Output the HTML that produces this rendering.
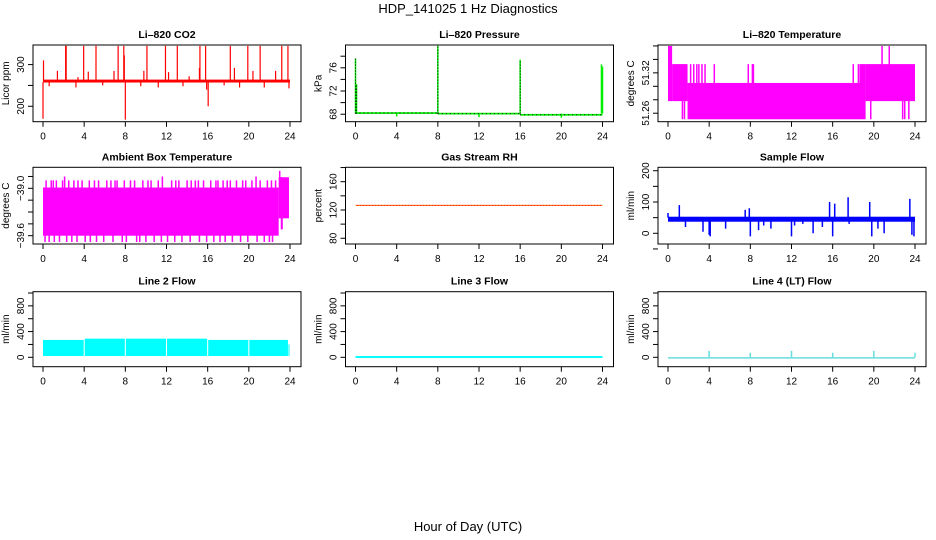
<!DOCTYPE html>
<html><head><meta charset="utf-8"><style>
body{margin:0;background:#fff}
svg{display:block;font-family:"Liberation Sans",Arial,sans-serif}
</style></head><body>
<svg id="chart" width="936" height="540" viewBox="0 0 936 540">
<text x="468" y="13" text-anchor="middle" font-size="13">HDP_141025  1 Hz Diagnostics</text>
<text x="468" y="531" text-anchor="middle" font-size="13">Hour of Day (UTC)</text>
</svg>
<script>
// ---- data ----
const xTicks = [0,4,8,12,16,20,24];
// CO2
const co2Band = [[0,24,257,264]];
const co2SpikeT = [0.0,0.05,2.2,2.25,3.95,5.15,7.3,7.85,8.0,10.1,11.9,13.05,15.25,15.8,15.9,16.05,18.2,19.9,21.1,23.2,23.8,1.4,3.4,4.4,6.9,7.9,9.8,12.2,14.2,15.2,18.6,20.4,22.6,0.6,3.2,5.8,9.5,11.2,13.6,17.6,19.1,21.5,23.9];
const co2SpikeV = [170,310,345,345,345,345,345,345,168,345,345,345,345,345,240,200,345,345,345,345,345,285,270,283,285,322,285,282,272,292,292,285,285,248,245,250,248,245,248,250,245,245,243];
// Pressure
const presBand = [[0,8,68.05,68.35],[8,16,67.95,68.25],[16,24,67.75,68.05]];
const presSpikeT = [0.0,0.1,8.0,16.0,23.9,24.0,4.0,12.0,20.0];
const presSpikeV = [77.6,73.2,79.8,77.4,76.6,76.2,67.6,67.5,67.4];
// Li-820 temperature (quantized levels)
const tempBand = [[0,0.4,51.278,51.360],[0.4,1.9,51.278,51.333],[1.9,19.2,51.251,51.305],[19.2,24,51.278,51.333],[18.6,19.2,51.278,51.333]];
const tempSpikeT = [1.4,1.6,2.2,2.5,2.8,3.0,3.3,3.6,4.5,7.8,8.2,8.3,18.0,18.5,19.7,22.8,23.0,23.4,20.8,21.5];
const tempSpikeV = [51.251,51.251,51.333,51.333,51.333,51.333,51.333,51.333,51.333,51.333,51.333,51.333,51.333,51.333,51.251,51.251,51.251,51.251,51.36,51.36];
// Ambient box temperature
const ambBand = [[0,22.9,-39.6,-38.99],[22.9,23.9,-39.38,-38.86],[23.1,23.3,-39.52,-38.86]];
const ambSpikeT = [0.3,1.0,2.1,3.4,5.0,6.6,7.2,8.9,10.2,11.6,12.9,14.4,15.1,16.8,17.9,19.4,20.7,22.6,0.6,1.6,2.8,4.1,5.9,7.7,9.4,10.8,12.1,13.5,15.9,17.2,18.4,19.9,21.5,22.3,23.0,0.8,1.3,1.9,2.5,3.0,3.8,4.5,5.4,6.2,7.0,7.9,8.5,9.7,10.5,11.2,12.5,13.2,14.0,14.8,15.6,16.3,17.0,17.5,18.2,18.8,19.7,20.3,21.1,21.8,22.2,0.2,1.1,2.3,3.3,4.6,5.2,6.8,8.1,9.1,10.0,11.5,12.8,14.3,15.2,16.6,17.7,19.2,20.8,22.0];
const ambSpikeV = [-38.9,-38.9,-38.85,-38.9,-38.9,-38.9,-38.9,-38.9,-38.9,-38.85,-38.9,-38.9,-38.9,-38.9,-38.9,-38.9,-38.85,-38.9,-39.68,-39.68,-39.68,-39.68,-39.68,-39.68,-39.68,-39.68,-39.68,-39.68,-39.68,-39.68,-39.68,-39.68,-39.68,-39.68,-38.78,-38.9,-38.9,-38.9,-38.9,-38.9,-38.9,-38.9,-38.9,-38.9,-38.9,-38.9,-38.9,-38.9,-38.9,-38.9,-38.9,-38.9,-38.9,-38.9,-38.9,-38.9,-38.9,-38.9,-38.9,-38.9,-38.9,-38.9,-38.9,-38.9,-38.9,-39.68,-39.68,-39.68,-39.68,-39.68,-39.68,-39.68,-39.68,-39.68,-39.68,-39.68,-39.68,-39.68,-39.68,-39.68,-39.68,-39.68,-39.68,-39.68];
// Gas stream RH
const rhT = [0,24];
const rhV = [126.5,126.5];
// Sample flow
const flowBand = [[0,24,37,53]];
const flowSpikeT = [0.0,1.1,1.7,4.0,4.1,5.6,7.5,7.9,8.0,10.0,12.0,12.3,13.1,15.0,15.7,16.0,16.2,17.5,17.6,19.6,19.8,21.0,23.5,23.9,3.4,8.8,9.3,14.1,20.4,23.7];
const flowSpikeV = [65,90,20,-5,-10,15,75,80,-10,15,-10,25,30,20,100,-10,95,115,30,100,-10,0,110,-10,5,10,25,0,15,-5];
// Line 2 flow
const l2Band = [[0,3.95,20,270],[4.05,7.95,20,290],[8.05,11.95,20,290],[12.05,15.95,20,290],[16.05,19.95,20,270],[20.05,23.8,20,270],[23.85,23.95,20,200]];
// Line 3 flow
const l3Band = [[0,24,-10,20]];
// Line 4 flow
const l4Band = [[0,24,-3,3]];
const l4SpikeT = [4.0,8.0,12.0,16.0,20.0,24.0];
const l4SpikeV = [100,70,100,70,100,70];

// ---- layout ----
const NS='http://www.w3.org/2000/svg';
const svg=document.getElementById('chart');
const colX=[0,312.5,625];
const rowY=[[45,121.7],[167.3,244],[291.7,366.7]];
function el(tag,attrs,parent){const e=document.createElementNS(NS,tag);for(const k in attrs)e.setAttribute(k,attrs[k]);(parent||svg).appendChild(e);return e;}

function panel(cfg){
  const ox=colX[cfg.col], top=rowY[cfg.row][0], bot=rowY[cfg.row][1];
  const left=33+ox, right=301+ox;
  const g=el('g',{});
  
  
  const xs=t=>43+ox+(t/24)*247;
  const ys=v=>bot-(v-cfg.ylim[0])/(cfg.ylim[1]-cfg.ylim[0])*(bot-top);
  const clipId='c'+cfg.row+cfg.col;
  const cp=el('clipPath',{id:clipId},g);el('rect',{x:left,y:top,width:right-left,height:bot-top},cp);
  const data=el('g',{'clip-path':'url(#'+clipId+')'},g);
  
  
  (cfg.bands||[]).forEach(b=>{
    const r=el('rect',{x:xs(b[0]),y:ys(b[3]),width:Math.max(1,xs(b[1])-xs(b[0])),height:Math.max(1.5,ys(b[2])-ys(b[3])),fill:cfg.color},data);
    
    
  });
  if(cfg.spT){cfg.spT.forEach((t,i)=>{
    const base=cfg.spBase!==undefined?cfg.spBase:(cfg.spV[i]>cfg.mid?cfg.bandHi:cfg.bandLo);
    const l=el('line',{x1:xs(t),x2:xs(t),y1:ys(base),y2:ys(cfg.spV[i]),stroke:cfg.color,'stroke-width':cfg.spW||1.5},data);
    
    
  });}
  if(cfg.lineT){
    const pts=cfg.lineT.map((t,i)=>xs(t)+','+ys(cfg.lineV[i])).join(' ');
    el('polyline',{points:pts,fill:'none',stroke:'#ff0000','stroke-width':1},data);
    const p2=el('polyline',{points:pts,fill:'none',stroke:'#e8d000','stroke-width':1,'stroke-dasharray':'1,2'},data);
    
    
  }
  if(cfg.dots){cfg.dots(data,xs,ys);}
  const box=el('rect',{x:left,y:top,width:right-left,height:bot-top,fill:'none',stroke:'#000','stroke-width':1},g);
  
  
  // x axis
  xTicks.forEach(t=>{
    el('line',{x1:xs(t),x2:xs(t),y1:bot,y2:bot+5,stroke:'#000'},g);
    const tx=el('text',{x:xs(t),y:bot+18,'text-anchor':'middle','font-size':10},g);tx.textContent=t;
    
    
  });
  // y axis
  cfg.yTicks.forEach(v=>{
    el('line',{x1:left-5,x2:left,y1:ys(v),y2:ys(v),stroke:'#000'},g);
  });
  cfg.yLabels.forEach(v=>{
    const tx=el('text',{x:0,y:0,'text-anchor':'middle','font-size':10,transform:'translate('+(left-9)+','+ys(v)+') rotate(-90)'},g);
    tx.textContent=String(v).replace('-','\u2212');
    
    
  });
  const yl=el('text',{x:0,y:0,'text-anchor':'middle','font-size':10,transform:'translate('+(left-24)+','+((top+bot)/2)+') rotate(-90)'},g);
  yl.textContent=cfg.ylab;
  
  
  const ti=el('text',{x:(left+right)/2,y:top-7,'text-anchor':'middle','font-size':10.5,'font-weight':'bold'},g);
  ti.textContent=cfg.title;
  
  
}

panel({name:'co2-panel',row:0,col:0,title:'Li\u2013820 CO2',ylab:'Licor ppm',color:'#ff0000',ylim:[163,347],yTicks:[200,250,300],yLabels:[200,300],bands:co2Band,spT:co2SpikeT,spV:co2SpikeV,mid:260,bandHi:262,bandLo:258,spW:1.2});
panel({name:'pressure-panel',row:0,col:1,title:'Li\u2013820 Pressure',ylab:'kPa',color:'#00ee00',ylim:[66.71,79.93],yTicks:[68,70,72,74,76,78],yLabels:[68,72,76],bands:presBand,spT:presSpikeT,spV:presSpikeV,spBase:68.1,
  dots:(g,xs,ys)=>{presSpikeT.slice(0,4).forEach((t,i)=>{el('line',{x1:xs(t),x2:xs(t),y1:ys(68.1),y2:ys(presSpikeV[i]),stroke:'#000','stroke-width':1,'stroke-dasharray':'1,2'},g);});
    presBand.forEach(b=>{el('line',{x1:xs(b[0]),x2:xs(b[1]),y1:ys((b[2]+b[3])/2),y2:ys((b[2]+b[3])/2),stroke:'#000','stroke-width':1,'stroke-dasharray':'1,3'},g);});}});
panel({name:'li820-temperature-panel',row:0,col:2,title:'Li\u2013820 Temperature',ylab:'degrees C',color:'#ff00ff',ylim:[51.2474,51.3614],yTicks:[51.26,51.28,51.30,51.32,51.34,51.36],yLabels:['51.26','51.32'],bands:tempBand,spT:tempSpikeT,spV:tempSpikeV,mid:51.29,bandHi:51.3,bandLo:51.28});
panel({name:'ambient-box-temperature-panel',row:1,col:0,title:'Ambient Box Temperature',ylab:'degrees C',color:'#ff00ff',ylim:[-39.705,-38.734],yTicks:[-38.85,-39.0,-39.15,-39.3,-39.45,-39.6],yLabels:['-39.0','-39.6'],bands:ambBand,spT:ambSpikeT,spV:ambSpikeV,mid:-39.3,bandHi:-39.1,bandLo:-39.5,spW:1.5});
panel({name:'gas-stream-rh-panel',row:1,col:1,title:'Gas Stream RH',ylab:'percent',color:'#ff0000',ylim:[71.9,180.35],yTicks:[80,100,120,140,160,180],yLabels:[80,120,160],lineT:rhT,lineV:rhV});
panel({name:'sample-flow-panel',row:1,col:2,title:'Sample Flow',ylab:'ml/min',color:'#0000ff',ylim:[-34.2,210.9],yTicks:[-50,0,50,100,150,200],yLabels:[0,100,200],bands:flowBand,spT:flowSpikeT,spV:flowSpikeV,mid:45,bandHi:50,bandLo:40});
panel({name:'line2-flow-panel',row:2,col:0,title:'Line 2 Flow',ylab:'ml/min',color:'#00ffff',ylim:[-146,1020],yTicks:[0,200,400,600,800,1000],yLabels:[0,400,800],bands:l2Band});
panel({name:'line3-flow-panel',row:2,col:1,title:'Line 3 Flow',ylab:'ml/min',color:'#00ffff',ylim:[-146,1020],yTicks:[0,200,400,600,800,1000],yLabels:[0,400,800],bands:l3Band});
panel({name:'line4-flow-panel',row:2,col:2,title:'Line 4 (LT) Flow',ylab:'ml/min',color:'#66dddd',ylim:[-146,1020],yTicks:[0,200,400,600,800,1000],yLabels:[0,400,800],bands:l4Band,spT:l4SpikeT,spV:l4SpikeV,spBase:0,spW:1.5});
</script>
</body></html>
